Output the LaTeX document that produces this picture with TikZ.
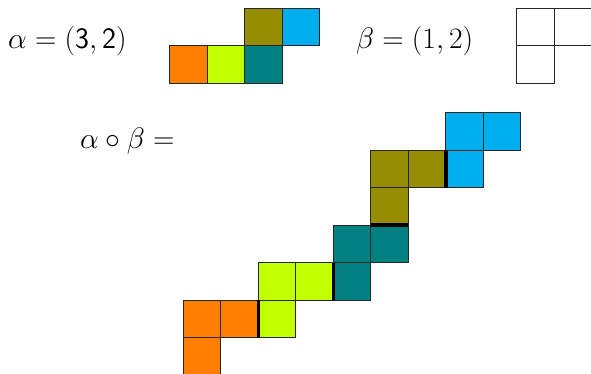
\documentclass[tikz,border=0pt]{standalone}
\usepackage{fix-cm}
\usepackage{amsmath}
\usepackage{xcolor}
\usepackage{tikz}
\definecolor{rOrange}{RGB}{255,128,0}
\definecolor{rLime}{RGB}{191,255,0}
\definecolor{rTeal}{RGB}{0,128,128}
\definecolor{rOlive}{RGB}{150,142,0}
\definecolor{rBlue}{RGB}{0,174,239}
\tikzset{
  cell/.style={draw=black!85, line width=0.6pt},
  seam/.style={draw=black, line width=2.6pt},
  lbl/.style={font=\fontsize{22.5}{27}\selectfont, inner sep=0pt, anchor=west},
}
\newcommand{\RibCell}[3]{%
  \filldraw[cell,fill=#1] (#2,#3) rectangle ++(1,1);}

\begin{document}
\begin{tikzpicture}
  \useasboundingbox (0,0) rectangle (15.76,-9.973);

  % labels
  \node[lbl] (alab) at (0.21,-1.1) {$\alpha=(\mathsf{3},\mathsf{2})$};
  \node[lbl] (blab) at (9.49,-1.1) {$\beta=(1,2)$};
  \node[lbl] (clab) at (2.13,-3.76) {$\alpha\circ\beta=$};

  % the ribbon alpha
  \begin{scope}[shift={(4.52,-2.22)}]
    \RibCell{rOrange}{0}{0}
    \RibCell{rLime}{1}{0}
    \RibCell{rTeal}{2}{0}
    \RibCell{rOlive}{2}{1}
    \RibCell{rBlue}{3}{1}
  \end{scope}

  % the shape beta
  \begin{scope}[shift={(13.78,-2.22)}]
    \RibCell{white}{0}{0}
    \RibCell{white}{0}{1}
    \RibCell{white}{1}{1}
  \end{scope}

  % alpha o beta: one copy of beta per cell of alpha
  \begin{scope}[shift={(4.89,-10)}]
    \foreach \col/\dx/\dy in {rOrange/0/0, rLime/2/1, rTeal/4/2,
                              rOlive/5/4, rBlue/7/5} {
      \RibCell{\col}{\dx}{\dy}
      \RibCell{\col}{\dx}{\dy+1}
      \RibCell{\col}{\dx+1}{\dy+1}
    }
    \draw[seam] (2,1) -- (2,2);
    \draw[seam] (4,2) -- (4,3);
    \draw[seam] (5,4) -- (6,4);
    \draw[seam] (7,5) -- (7,6);
  \end{scope}
\end{tikzpicture}
\end{document}
